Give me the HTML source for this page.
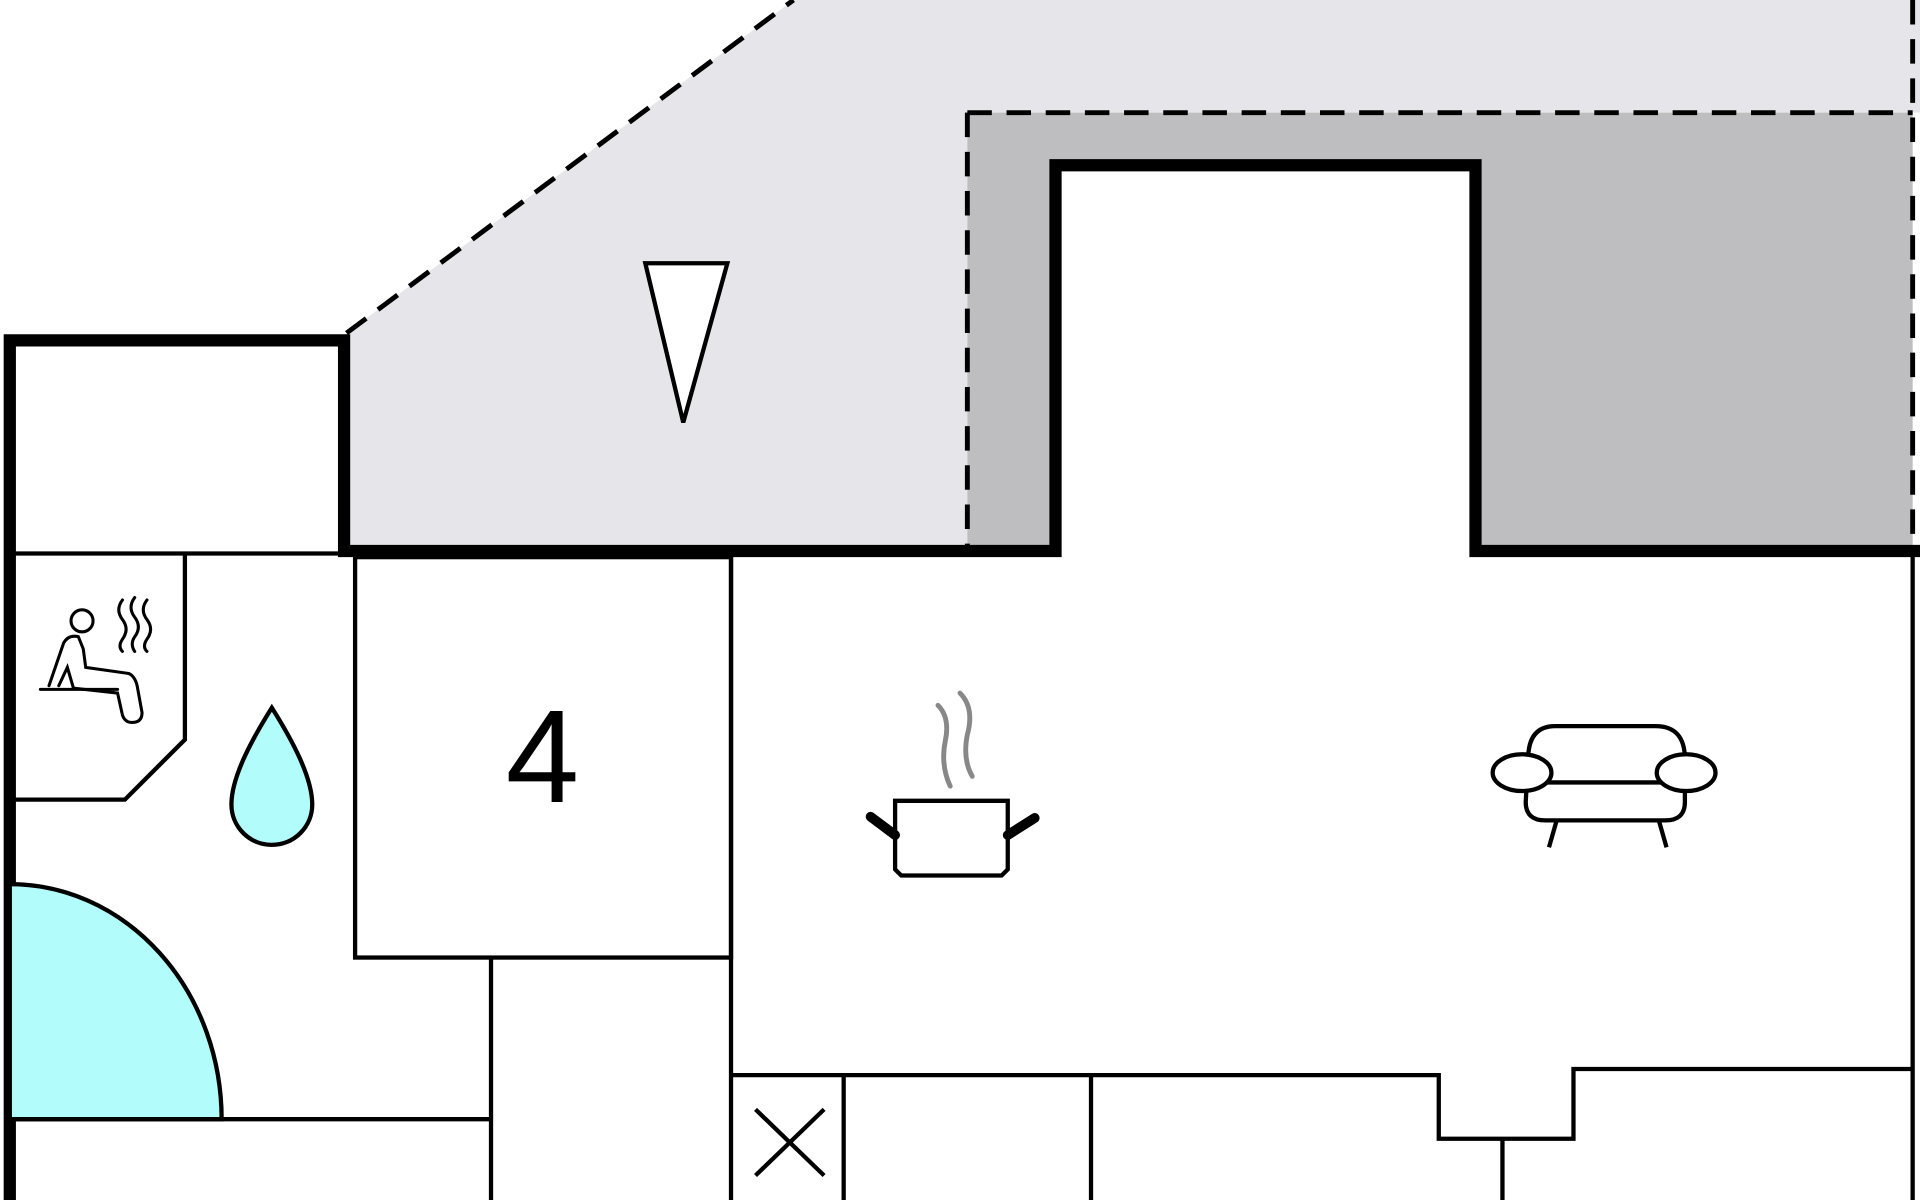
<!DOCTYPE html>
<html><head><meta charset="utf-8"><style>html,body{margin:0;padding:0;background:#fff}svg{display:block}</style></head>
<body>
<svg width="1920" height="1200" viewBox="0 0 1568 980" xmlns="http://www.w3.org/2000/svg">
<rect width="1568" height="980" fill="#fff"/>
<polygon points="283,272 648,0 1568,0 1568,92 790,92 790,450 283,450" fill="#e6e6ea"/>
<polygon points="790,92 1562,92 1562,450 1205,450 1205,135 862,135 862,450 790,450" fill="#bebec0"/>
<g stroke="#000" stroke-width="4" stroke-dasharray="20,12" fill="none">
<line x1="283" y1="272" x2="648" y2="0"/>
<line x1="1562" y1="0" x2="1562" y2="450"/>
<line x1="790" y1="92" x2="1562" y2="92"/>
<line x1="790" y1="92" x2="790" y2="450"/>
</g>
<path d="M8,980 L8,278 L281,278 L281,450 L862,450 L862,135 L1205,135 L1205,450 L1568,450" stroke="#000" stroke-width="10" fill="none"/>
<path d="M8,722 A173,192 0 0 1 181,914 L8,914 Z" fill="#b3fcfc" stroke="#000" stroke-width="3.5"/>
<g stroke="#000" stroke-width="3.5" fill="none">
<line x1="8" y1="452" x2="281" y2="452"/>
<path d="M151,452 L151,604 L102,653 L8,653"/>
<rect x="290" y="455" width="307" height="327"/>
<line x1="401" y1="782" x2="401" y2="980"/>
<line x1="597" y1="455" x2="597" y2="980"/>
<line x1="8" y1="914" x2="401" y2="914"/>
<path d="M597,878 L1175,878 L1175,930 L1285,930 L1285,873 L1562,873"/>
<line x1="1562" y1="450" x2="1562" y2="980"/>
<line x1="689" y1="878" x2="689" y2="980"/>
<line x1="891" y1="878" x2="891" y2="980"/>
<line x1="1227" y1="930" x2="1227" y2="980"/>
<line x1="617" y1="906" x2="673" y2="960"/>
<line x1="673" y1="906" x2="617" y2="960"/>
</g>
<polygon points="527,215 594,215 558,345" fill="#fff" stroke="#000" stroke-width="3.5"/>
<path d="M222,578 C205,605 189,635 189,657 A33,33 0 0 0 255,657 C255,635 239,605 222,578 Z" fill="#b3fcfc" stroke="#000" stroke-width="3.5"/>
<text x="443" y="655" font-family="Liberation Sans, sans-serif" font-size="108" text-anchor="middle">4</text>
<g stroke="#000" stroke-width="2.5" fill="none" stroke-linecap="round">
<circle cx="67" cy="507" r="9"/>
<path d="M40,560 L52,525 Q56,518 64,520 L68,530 L70,545 L105,550 Q110,552 112,560 L116,582 Q116,590 108,590 Q102,590 100,584 L96,566 L60,562 L55,545 L48,560"/>
<line x1="33" y1="563" x2="96" y2="563"/>
<path d="M100,490 Q94,498 100,506 Q106,514 100,522 Q96,528 100,532"/>
<path d="M110,488 Q104,496 110,504 Q116,512 110,520 Q106,526 110,532"/>
<path d="M120,490 Q114,498 120,506 Q126,514 120,522 Q116,528 120,532"/>
</g>
<g stroke="#888" stroke-width="4" fill="none" stroke-linecap="round">
<path d="M766,576 Q776,586 772,605 Q768,625 776,642"/>
<path d="M784,566 Q796,578 790,600 Q786,620 794,634"/>
</g>
<g stroke="#000" fill="none">
<path d="M731,654 L823,654 L823,710 L818,715 L736,715 L731,710 Z" stroke-width="3.5"/>
<line x1="731" y1="682" x2="711" y2="667" stroke-width="8" stroke-linecap="round"/>
<line x1="823" y1="682" x2="845" y2="668" stroke-width="8" stroke-linecap="round"/>
</g>
<g stroke="#000" stroke-width="3.5" fill="#fff">
<path d="M1248,620 Q1248,593 1270,593 L1352,593 Q1376,593 1376,620 L1376,655 Q1376,670 1360,670 L1262,670 Q1246,670 1246,655 Z"/>
<line x1="1262" y1="639" x2="1360" y2="639"/>
<ellipse cx="1243" cy="631" rx="24" ry="15"/>
<ellipse cx="1377" cy="631" rx="24" ry="15"/>
<line x1="1271" y1="671" x2="1265" y2="692"/>
<line x1="1355" y1="671" x2="1361" y2="692"/>
</g>
</svg>
</body></html>
